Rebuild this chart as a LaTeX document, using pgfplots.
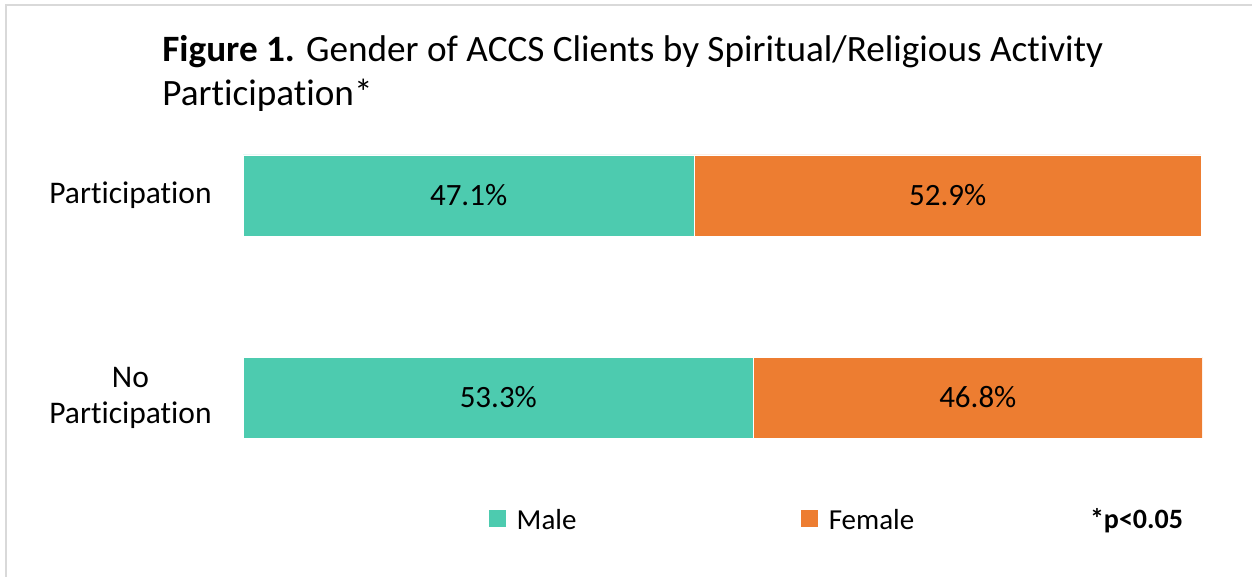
\documentclass[border=0pt]{standalone}
\usepackage{fontspec}
\setmainfont{Carlito}[Ligatures=NoCommon]
\usepackage{pgfplots}
\pgfplotsset{compat=1.18}
\definecolor{colMale}{HTML}{4DCBAF}
\definecolor{colFemale}{HTML}{ED7D31}
\definecolor{colFrame}{HTML}{D9D9D9}

\begin{document}
\begin{tikzpicture}
% page = 1252 x 577 px, 1 px = 0.5pt
\path[use as bounding box] (0,0) rectangle (626pt,-288.5pt);
\draw[colFrame, line width=1pt] (3pt,-288.5pt) -- (3pt,-2.5pt) -- (626pt,-2.5pt);

%--- Title (two lines)
\node[anchor=base west, inner sep=0pt, font=\fontsize{18.6}{22}\selectfont]
  at (81pt,-31pt) {\textbf{Figure 1.} Gender of ACCS Clients by Spiritual/Religious Activity};
\node[anchor=base west, inner sep=0pt, font=\fontsize{18.6}{22}\selectfont]
  at (81pt,-53pt) {Participation*};

\begin{axis}[
  at={(121.5pt,-219pt)}, anchor=south west,
  scale only axis,
  width=479.5pt, height=141.5pt,
  xbar stacked,
  bar width=40.5pt,
  xmin=0, xmax=100.1,
  ymin=-0.2005, ymax=1.2005,
  xtick=\empty,
  ytick={0,1},
  yticklabels={{No\\Participation},{Participation}},
  yticklabel style={align=center, inner sep=0pt, xshift=-15.5pt,
    font=\fontsize{15.75}{18}\selectfont},
  major tick length=0pt,
  axis line style={draw=none},
  point meta=explicit,
  nodes near coords={\pgfmathprintnumber[fixed,precision=1,fixed zerofill,assume math mode=true]{\pgfplotspointmeta}\%},
  every node near coord/.append style={font=\fontsize{15.5}{18}\selectfont, text=black},
  legend columns=2,
  legend style={draw=none, fill=none, inner sep=0pt,
    at={(0.2555,-0.2933)}, anchor=west,
    font=\fontsize{14.5}{17}\selectfont,
    nodes={inner sep=0pt},
    /tikz/every odd column/.append style={column sep=5pt},
    /tikz/every even column/.append style={column sep=112pt}},
  legend image code/.code={\fill[#1] (0pt,-3pt) rectangle (8.75pt,5.75pt);},
]
\addplot[fill=colMale, draw=white, line width=0.4pt]
  coordinates {(47.1,1) [47.1] (53.3,0) [53.3]};
\addlegendentry{Male}
\addplot[fill=colFemale, draw=white, line width=0.4pt]
  coordinates {(52.9,1) [52.9] (46.8,0) [46.8]};
\addlegendentry{Female}
\end{axis}

\node[anchor=base, inner sep=0pt, font=\fontsize{14}{17}\selectfont\bfseries]
  at (568.25pt,-264pt) {*p<0.05};
\end{tikzpicture}
\end{document}
